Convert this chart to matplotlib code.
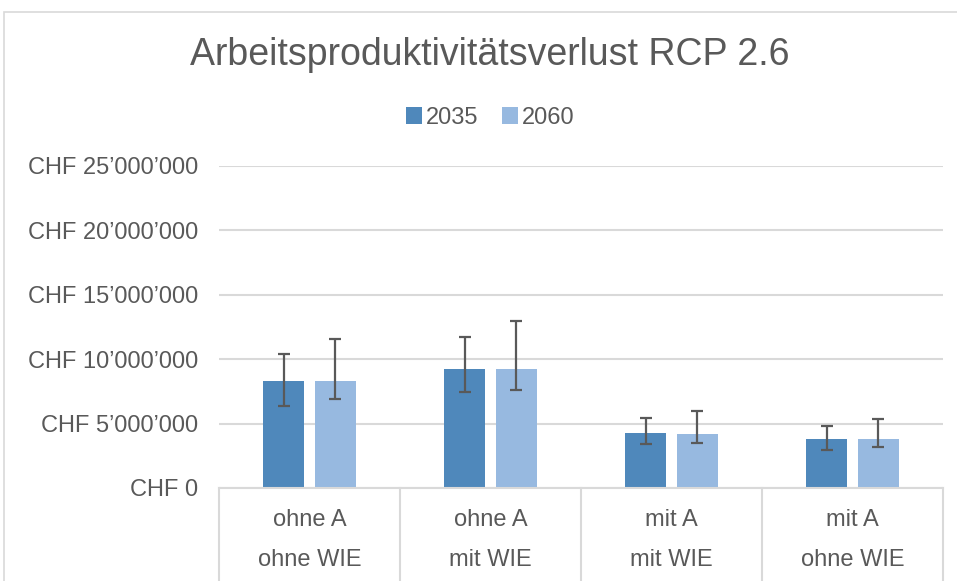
import numpy as np
import matplotlib.pyplot as plt
from matplotlib.patches import Rectangle
from matplotlib.transforms import blended_transform_factory

# data
kategorien_1 = ['ohne A', 'ohne A', 'mit A', 'mit A']
kategorien_2 = ['ohne WIE', 'mit WIE', 'mit WIE', 'ohne WIE']
werte_2035 = [8.31e6, 9.26e6, 4.24e6, 3.80e6]
werte_2060 = [8.31e6, 9.21e6, 4.22e6, 3.80e6]
oben_2035 = [10.43e6, 11.70e6, 5.41e6, 4.81e6]
unten_2035 = [6.37e6, 7.43e6, 3.42e6, 2.95e6]
oben_2060 = [11.55e6, 12.94e6, 5.98e6, 5.33e6]
unten_2060 = [6.89e6, 7.59e6, 3.52e6, 3.16e6]
y_ticks = [0, 5e6, 10e6, 15e6, 20e6, 25e6]
y_labels = ['CHF 0', 'CHF 5’000’000', 'CHF 10’000’000', 'CHF 15’000’000',
            'CHF 20’000’000', 'CHF 25’000’000']
serien = ['2035', '2060']

plt.rcParams['font.family'] = ['Liberation Sans', 'DejaVu Sans']
grau = '#595959'
linie = '#D9D9D9'
dunkel = '#4F88BB'
hell = '#97B9E0'

fig = plt.figure(figsize=(9.57, 5.81), dpi=100)
ax = fig.add_axes([219/957, 1-488/581, (943-219)/957, (488-166)/581])

x = np.arange(len(kategorien_1))
b = 0.226
d = 0.03
w35 = np.array(werte_2035)
w60 = np.array(werte_2060)
err35 = [w35 - np.array(unten_2035), np.array(oben_2035) - w35]
err60 = [w60 - np.array(unten_2060), np.array(oben_2060) - w60]
ekw = dict(ecolor=grau, elinewidth=1.6, capsize=4.3, capthick=1.6)

ax.bar(x - b/2 - d, w35, b, color=dunkel, label=serien[0], zorder=2, yerr=err35, error_kw=ekw)
ax.bar(x + b/2 + d, w60, b, color=hell, label=serien[1], zorder=2, yerr=err60, error_kw=ekw)

ax.set_xlim(-0.5, len(x) - 0.5)
ax.set_ylim(0, 25e6)
ax.set_yticks(y_ticks)
ax.set_yticklabels(y_labels, fontsize=17, color=grau)
ax.tick_params(axis='y', length=0, pad=15)
ax.set_xticks([])
ax.grid(axis='y', color=linie, linewidth=1.5, zorder=0)
for s in ['top', 'right', 'left']:
    ax.spines[s].set_visible(False)
ax.spines['bottom'].set_color(linie)
ax.spines['bottom'].set_linewidth(1.5)

# category separators and two-line labels
for i in range(len(x) + 1):
    ax.plot([i - 0.5, i - 0.5], [0, -0.4], color=linie, linewidth=1.5,
            transform=ax.get_xaxis_transform(), clip_on=False)
tr = blended_transform_factory(ax.transData, fig.transFigure)
for i in range(len(x)):
    ax.text(i, 1 - 520/581, kategorien_1[i], ha='center', va='center', fontsize=17,
            color=grau, transform=tr)
    ax.text(i, 1 - 560/581, kategorien_2[i], ha='center', va='center', fontsize=17,
            color=grau, transform=tr)

fig.text(490/957, 1 - 55/581, 'Arbeitsproduktivitätsverlust RCP 2.6', ha='center',
         va='center', fontsize=27, color=grau)
fig.legend(loc='center', bbox_to_anchor=(490/957, 1 - 118/581), ncol=2, frameon=False,
           fontsize=17, labelcolor=grau, handlelength=0.7, handleheight=0.7,
           handletextpad=0.15, columnspacing=1.0)

# outer chart border
fig.patches.append(Rectangle((4/957, -0.1), 1.2, 1.1 - 12/581, transform=fig.transFigure,
                             fill=False, edgecolor=linie, linewidth=1.2))

fig.savefig('out.png', dpi=100)
